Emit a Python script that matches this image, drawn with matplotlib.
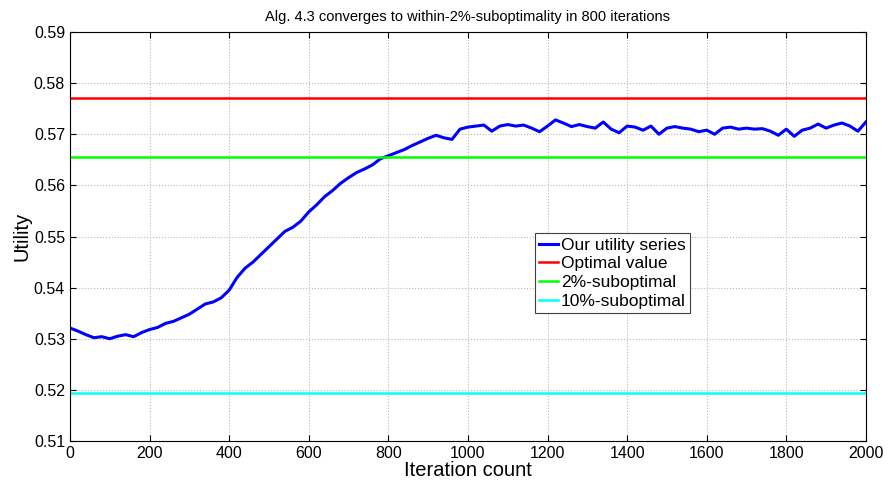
import numpy as np
import matplotlib.pyplot as plt

plt.rcParams['font.family'] = ['Liberation Sans', 'DejaVu Sans']

iters = np.arange(0, 2001, 20)
utility = [
    0.5321, 0.5315, 0.5308, 0.5302, 0.5304, 0.5300, 0.5305, 0.5308, 0.5304, 0.5312,
    0.5318, 0.5322, 0.5330, 0.5334, 0.5341, 0.5348, 0.5358, 0.5368, 0.5372, 0.5380,
    0.5395, 0.5420, 0.5438, 0.5450, 0.5465, 0.5480, 0.5495, 0.5510, 0.5518, 0.5530,
    0.5548, 0.5562, 0.5578, 0.5590, 0.5604, 0.5615, 0.5625, 0.5632, 0.5640, 0.5652,
    0.5658, 0.5664, 0.5670, 0.5678, 0.5685, 0.5692, 0.5698, 0.5693, 0.5690, 0.5710,
    0.5714, 0.5716, 0.5718, 0.5706, 0.5716, 0.5719, 0.5716, 0.5718, 0.5712, 0.5705,
    0.5716, 0.5728, 0.5722, 0.5715, 0.5719, 0.5715, 0.5712, 0.5724, 0.5710, 0.5703,
    0.5716, 0.5714, 0.5708, 0.5716, 0.5700, 0.5712, 0.5715, 0.5712, 0.5710, 0.5705,
    0.5708, 0.5700, 0.5712, 0.5714, 0.5710, 0.5712, 0.5710, 0.5711, 0.5706, 0.5698,
    0.5710, 0.5696, 0.5708, 0.5712, 0.5720, 0.5712, 0.5718, 0.5722, 0.5716, 0.5706,
    0.5724,
]
optimal = 0.577
subopt2 = optimal * 0.98
subopt10 = optimal * 0.90

fig = plt.figure(figsize=(8.89, 4.83), dpi=100)
ax = fig.add_axes([0.0787, 0.087, 0.8953, 0.8467])

ax.plot(iters, utility, color='#0000ff', lw=2.2, label='Our utility series')
ax.axhline(optimal, color='#ff0000', lw=1.8, label='Optimal value')
ax.axhline(subopt2, color='#00ff00', lw=1.8, label='2%-suboptimal')
ax.axhline(subopt10, color='#00ffff', lw=1.8, label='10%-suboptimal')

ax.set_xlim(0, 2000)
ax.set_ylim(0.51, 0.59)
ax.set_xticks(np.arange(0, 2001, 200))
ax.set_yticks(np.arange(0.51, 0.5901, 0.01))
ax.set_yticklabels(['%.2f' % v for v in np.arange(0.51, 0.5901, 0.01)])
ax.tick_params(direction='in', top=True, right=True, labelsize=11.5, length=4)
ax.grid(True, linestyle=':', color='#b8b8b8', lw=0.8)

ax.set_xlabel('Iteration count', fontsize=14.5, labelpad=0)
ax.set_ylabel('Utility', fontsize=14.5, labelpad=2)
ax.set_title('Alg. 4.3 converges to within-2%-suboptimality in 800 iterations', fontsize=10.5, pad=8)

leg = ax.legend(loc='lower left', bbox_to_anchor=(0.584, 0.313), fontsize=12.5,
                handlelength=1.1, handletextpad=0.15, borderpad=0.25, labelspacing=0.2,
                fancybox=False, framealpha=1, borderaxespad=0)
leg.get_frame().set_edgecolor('#404040')
leg.get_frame().set_linewidth(0.8)

fig.savefig('out.png', dpi=100)
